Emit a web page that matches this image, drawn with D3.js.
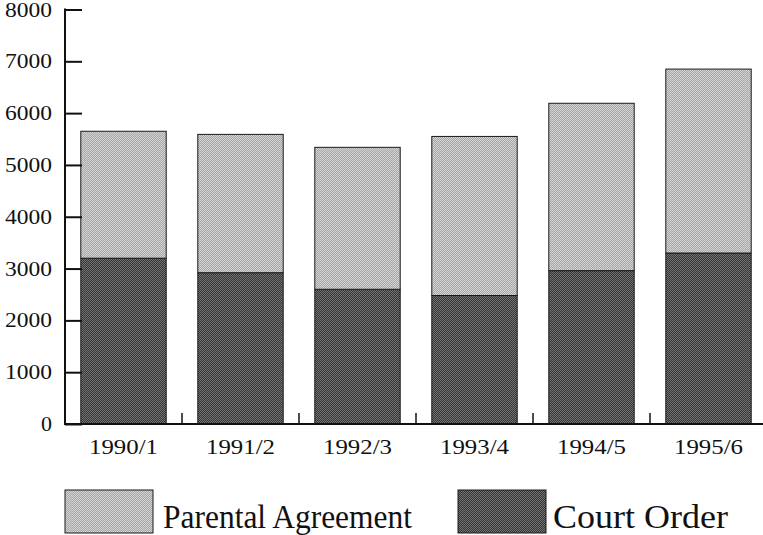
<!DOCTYPE html>
<html>
<head>
<meta charset="utf-8">
<script src="https://cdn.jsdelivr.net/npm/d3@7"></script>
<style>
  body { margin: 0; background: #fff; }
  svg text { font-family: "Liberation Serif", "DejaVu Serif", "Times New Roman", Times, serif; }
</style>
</head>
<body>
<div class="board"></div>
<script>
// data
var years = ["1990/1", "1991/2", "1992/3", "1993/4", "1994/5", "1995/6"];
var courtOrder = [3200, 2920, 2600, 2480, 2960, 3300];
var parentalAgreement = [2450, 2670, 2740, 3070, 3230, 3550];
var yTicks = [0, 1000, 2000, 3000, 4000, 5000, 6000, 7000, 8000];
var seriesNames = ["Parental Agreement", "Court Order"];

var boardInfo = { width: 763, height: 535 };
var serif = "'Liberation Serif', 'DejaVu Serif', 'Times New Roman', serif";

var svg = d3.select(".board").append("svg")
  .attr("width", boardInfo.width)
  .attr("height", boardInfo.height);

// halftone-ish fills
var defs = svg.append("defs");
function halftone(id, a, b) {
  var p = defs.append("pattern").attr("id", id)
    .attr("width", 2).attr("height", 2)
    .attr("patternUnits", "userSpaceOnUse");
  p.append("rect").attr("width", 2).attr("height", 2).attr("fill", a);
  p.append("rect").attr("width", 1).attr("height", 1).attr("fill", b);
  p.append("rect").attr("x", 1).attr("y", 1).attr("width", 1).attr("height", 1).attr("fill", b);
}
halftone("light", "#a6a6a6", "#d4d4d4");
halftone("dark", "#353535", "#747474");

var x = d3.scaleBand().domain(years)
  .range([65, 767])
  .paddingInner(0.27)
  .paddingOuter(0.135);

var y = d3.scaleLinear().domain([0, 8000]).range([424, 9.5]);

var rows = years.map(function(yr, i) {
  return { year: yr, court: courtOrder[i], parental: parentalAgreement[i] };
});

// bars: court order at bottom, parental agreement stacked on top
var g = svg.append("g");
g.selectAll(".court").data(rows).enter().append("rect")
  .attr("class", "court")
  .attr("x", function(d) { return x(d.year); })
  .attr("width", x.bandwidth())
  .attr("y", function(d) { return y(d.court); })
  .attr("height", function(d) { return y(0) - y(d.court); })
  .attr("fill", "url(#dark)")
  .attr("stroke", "#1a1a1a").attr("stroke-width", 1);

g.selectAll(".parental").data(rows).enter().append("rect")
  .attr("class", "parental")
  .attr("x", function(d) { return x(d.year); })
  .attr("width", x.bandwidth())
  .attr("y", function(d) { return y(d.court + d.parental); })
  .attr("height", function(d) { return y(d.court) - y(d.court + d.parental); })
  .attr("fill", "url(#light)")
  .attr("stroke", "#1a1a1a").attr("stroke-width", 1);

// y axis, ticks pointing inward
var yAxis = svg.append("g").attr("transform", "translate(65,0)")
  .call(d3.axisRight(y).tickValues(yTicks).tickSize(17).tickFormat(""));
yAxis.select(".domain").remove();
yAxis.selectAll(".tick line").attr("stroke", "#111").attr("stroke-width", 2);
svg.append("line")
  .attr("x1", 65).attr("x2", 65)
  .attr("y1", y(8000) - 1).attr("y2", y(0) + 1)
  .attr("stroke", "#111").attr("stroke-width", 2);

svg.selectAll(".ylab").data(yTicks).enter().append("text")
  .attr("class", "ylab")
  .attr("x", 52)
  .attr("y", function(d) { return y(d) + 7; })
  .attr("text-anchor", "end")
  .attr("font-family", serif)
  .attr("font-size", 20)
  .attr("textLength", function(d) { return d === 0 ? 11 : 47; })
  .attr("lengthAdjust", "spacingAndGlyphs")
  .attr("fill", "#111")
  .text(function(d) { return d; });

// x axis baseline and small ticks between bars
svg.append("line")
  .attr("x1", 64).attr("x2", 763)
  .attr("y1", y(0)).attr("y2", y(0))
  .attr("stroke", "#111").attr("stroke-width", 2);

svg.selectAll(".xtick").data(years.slice(1)).enter().append("line")
  .attr("class", "xtick")
  .attr("x1", function(d) { return x(d) - x.step() * x.paddingInner() / 2; })
  .attr("x2", function(d) { return x(d) - x.step() * x.paddingInner() / 2; })
  .attr("y1", y(0)).attr("y2", y(0) - 11)
  .attr("stroke", "#111").attr("stroke-width", 1.5);

svg.selectAll(".xlab").data(years).enter().append("text")
  .attr("class", "xlab")
  .attr("x", function(d) { return x(d) + x.bandwidth() / 2; })
  .attr("y", 454)
  .attr("text-anchor", "middle")
  .attr("font-family", serif)
  .attr("font-size", 21)
  .attr("textLength", 69)
  .attr("lengthAdjust", "spacingAndGlyphs")
  .attr("fill", "#111")
  .text(function(d) { return d; });

// legend
var legend = [
  { name: seriesNames[0], fill: "url(#light)", sx: 65, tx: 163, tw: 249 },
  { name: seriesNames[1], fill: "url(#dark)", sx: 458, tx: 553, tw: 175 }
];
var lg = svg.selectAll(".legend").data(legend).enter().append("g").attr("class", "legend");
lg.append("rect")
  .attr("x", function(d) { return d.sx; })
  .attr("y", 490).attr("width", 88).attr("height", 43)
  .attr("fill", function(d) { return d.fill; })
  .attr("stroke", "#1a1a1a").attr("stroke-width", 1);
lg.append("text")
  .attr("x", function(d) { return d.tx; })
  .attr("y", 528)
  .attr("font-family", serif)
  .attr("font-size", 34)
  .attr("fill", "#111")
  .attr("textLength", function(d) { return d.tw; })
  .attr("lengthAdjust", "spacingAndGlyphs")
  .text(function(d) { return d.name; });
</script>
</body>
</html>
